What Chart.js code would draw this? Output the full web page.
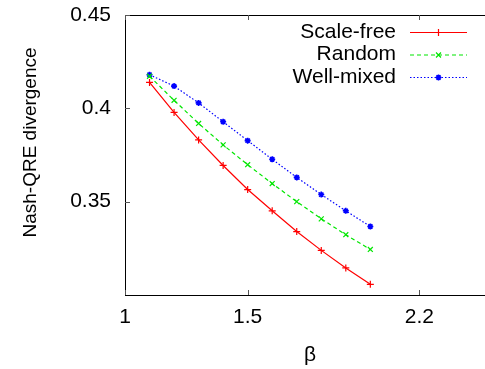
<!DOCTYPE html>
<html>
<head>
<meta charset="utf-8">
<script src="https://cdn.jsdelivr.net/npm/chart.js@4/dist/chart.umd.min.js"></script>
<style>
  html, body { margin: 0; padding: 0; background: #fff; }
  #wrap { width: 485px; height: 369px; overflow: hidden; position: relative; }
  canvas { display: block; }
</style>
</head>
<body>
<div id="wrap"><canvas id="c" width="500" height="369" style="width:500px;height:369px"></canvas></div>
<script>
// beta values (x) and the divergence for each network type
const BETA = [1.1, 1.2, 1.3, 1.4, 1.5, 1.6, 1.7, 1.8, 1.9, 2.0];
const SCALE_FREE = [0.4139, 0.3978, 0.3831, 0.3694, 0.3565, 0.3451, 0.3340, 0.3239, 0.3145, 0.3057];
const RANDOM     = [0.4172, 0.4043, 0.3919, 0.3804, 0.3698, 0.3597, 0.3500, 0.3408, 0.3323, 0.3244];
const WELL_MIXED = [0.4180, 0.4119, 0.4029, 0.3928, 0.3827, 0.3727, 0.3630, 0.3538, 0.3451, 0.3367];

const X_TICKS = [1, 1.5, 2.2];
const Y_TICKS = [0.35, 0.4, 0.45];
const SERIES_NAMES = ['Scale-free', 'Random', 'Well-mixed'];

const FONT = '"Liberation Sans", Arial, Helvetica, sans-serif';

function pts(ys) { return BETA.map((x, i) => ({ x: x, y: ys[i] })); }

const datasets = [
  { label: SERIES_NAMES[0], data: pts(SCALE_FREE), borderColor: '#ff0000', backgroundColor: '#ff0000',
    borderWidth: 1.2, pointStyle: 'cross', pointRadius: 3.5, pointBorderWidth: 1.2, borderDash: [] },
  { label: SERIES_NAMES[1], data: pts(RANDOM), borderColor: '#00e600', backgroundColor: '#00e600',
    borderWidth: 1.2, pointStyle: 'crossRot', pointRadius: 3.5, pointBorderWidth: 1.2, borderDash: [4, 3] },
  { label: SERIES_NAMES[2], data: pts(WELL_MIXED), borderColor: '#0000ff', backgroundColor: '#0000ff',
    borderWidth: 1.2, pointStyle: 'star', pointRadius: 3, pointBorderWidth: 1.6, borderDash: [1.5, 2] }
];

// Inward ticks, top frame line, axis titles and the key
const decor = {
  id: 'decor',
  afterDraw(chart) {
    const ctx = chart.ctx, a = chart.chartArea;
    const xs = chart.scales.x, ys = chart.scales.y;
    ctx.save();
    // frame top
    ctx.strokeStyle = '#000';
    ctx.lineWidth = 1;
    ctx.beginPath();
    ctx.moveTo(a.left, a.top + 0.5);
    ctx.lineTo(a.right, a.top + 0.5);
    ctx.stroke();
    // ticks pointing into the plot
    ctx.strokeStyle = '#555';
    ctx.beginPath();
    X_TICKS.forEach(v => {
      const px = Math.round(xs.getPixelForValue(v)) + 0.5;
      ctx.moveTo(px, a.bottom); ctx.lineTo(px, a.bottom - 5);
      ctx.moveTo(px, a.top); ctx.lineTo(px, a.top + 5);
    });
    Y_TICKS.forEach(v => {
      const py = Math.round(ys.getPixelForValue(v)) + 0.5;
      ctx.moveTo(a.left, py); ctx.lineTo(a.left + 5, py);
    });
    ctx.stroke();

    // axis titles
    ctx.fillStyle = '#000';
    ctx.textAlign = 'center';
    ctx.textBaseline = 'middle';
    ctx.font = '21px ' + FONT;
    ctx.fillText('β', 310, 355);
    ctx.save();
    ctx.translate(31, 142.5);
    ctx.rotate(-Math.PI / 2);
    ctx.font = '19px ' + FONT;
    ctx.fillText('Nash-QRE divergence', 0, 0);
    ctx.restore();

    // key
    const rows = [32, 54.5, 77];
    chart.data.datasets.forEach((ds, i) => {
      const y = rows[i];
      ctx.fillStyle = '#000';
      ctx.textAlign = 'right';
      ctx.font = '21px ' + FONT;
      ctx.fillText(ds.label, 396, y);
      ctx.strokeStyle = ds.borderColor;
      ctx.lineWidth = ds.borderWidth;
      ctx.setLineDash(ds.borderDash);
      ctx.beginPath();
      ctx.moveTo(410, y + 0.5);
      ctx.lineTo(467, y + 0.5);
      ctx.stroke();
      ctx.setLineDash([]);
      ctx.lineWidth = ds.pointBorderWidth;
      Chart.helpers.drawPoint(ctx, { pointStyle: ds.pointStyle, radius: ds.pointRadius, borderWidth: ds.pointBorderWidth, rotation: 0 }, 438.5, y + 0.5);
    });
    ctx.restore();
  }
};

new Chart(document.getElementById('c'), {
  type: 'line',
  data: { datasets: datasets },
  options: {
    responsive: false,
    animation: false,
    devicePixelRatio: 1,
    layout: { padding: { left: 0, top: 15, right: 7, bottom: 0 } },
    plugins: { legend: { display: false }, tooltip: { enabled: false } },
    elements: { line: { tension: 0, fill: false } },
    scales: {
      x: {
        type: 'linear', min: 1, max: 2.5,
        grid: { display: false, drawTicks: false },
        border: { display: true, color: '#000', width: 1 },
        afterBuildTicks: s => { s.ticks = X_TICKS.map(v => ({ value: v })); },
        afterFit: s => { s.height = 74; s.paddingLeft = 0; s.paddingRight = 0; },
        ticks: { color: '#000', font: { family: FONT, size: 21 }, padding: 10, maxRotation: 0,
                 autoSkip: false, callback: v => String(v) }
      },
      y: {
        type: 'linear', min: 0.3, max: 0.45,
        grid: { display: false, drawTicks: false },
        border: { display: true, color: '#000', width: 1 },
        afterBuildTicks: s => { s.ticks = Y_TICKS.map(v => ({ value: v })); },
        afterFit: s => { s.width = 125; s.paddingTop = 0; s.paddingBottom = 0; },
        ticks: { color: '#000', font: { family: FONT, size: 21 }, padding: 14,
                 autoSkip: false, callback: v => String(v) }
      }
    }
  },
  plugins: [decor]
});
</script>
</body>
</html>
